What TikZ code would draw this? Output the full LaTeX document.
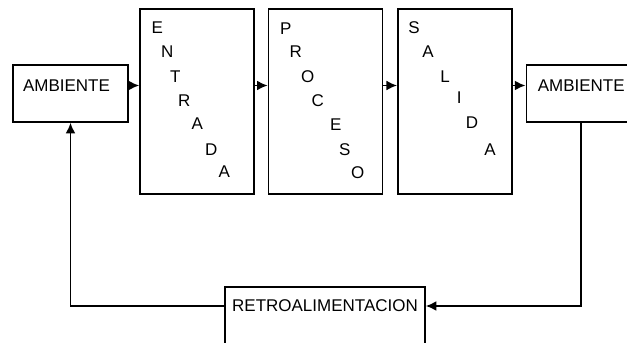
\documentclass[tikz,border=0pt]{standalone}
\usepackage{fontspec}
\setmainfont{Liberation Sans}
\usetikzlibrary{positioning,calc,arrows.meta}

\tikzset{
  caja/.style={draw, line width=1.2pt, inner sep=0pt},
  bloque/.style={caja, minimum width=34.2mm, minimum height=55.5mm},
  ambiente/.style={caja, minimum width=34.5mm, minimum height=17.1mm},
  texto/.style={font=\fontsize{14.5}{15}\selectfont, inner sep=0pt},
  letra/.style={texto},
  flecha/.style={-{Latex[length=3.2mm,width=3mm]}, line width=1.7pt}
}

\begin{document}
\begin{tikzpicture}[x=0.3mm, y=-0.3mm]
\path[use as bounding box, clip] (0,0) rectangle (627,343);

% bloques del sistema
\node[bloque] (entrada) at (197,101.5) {};
\node[bloque, right=3.9mm of entrada] (proceso) {};
\node[bloque, right=4.2mm of proceso] (salida) {};

% ambiente de entrada y de salida
\node[ambiente] (amb1) at (70.5,93.5) {};
\node[texto, xshift=-1.2mm, yshift=2.4mm] (amb1txt) at (amb1.center) {AMBIENTE};
\node[ambiente, minimum width=33mm, anchor=west] (amb2) at ($(salida.east |- amb1.center)+(13,0)$) {};
\node[texto, yshift=2.4mm] (amb2txt) at (amb2.center) {AMBIENTE};

% retroalimentacion
\node[caja, minimum width=60mm, minimum height=19.8mm] (retro) at (325,320) {};
\node[texto, yshift=4.2mm] (retrotxt) at (retro.center) {RETROALIMENTACION};

% letras en diagonal
\foreach \ch/\dx/\dy [count=\i] in {E/18/19, N/28/43, T/36/68, R/45/92, A/58/115, D/72/141, A/85/163}
  \node[letra] (ent\i) at ($(entrada.north west)+(\dx,\dy)$) {\ch};
\foreach \ch/\dx/\dy [count=\i] in {P/18/20, R/28/43, O/40/68, C/50/92, E/68/116, S/77/141, O/90/164}
  \node[letra] (pro\i) at ($(proceso.north west)+(\dx,\dy)$) {\ch};
\foreach \ch/\dx/\dy [count=\i] in {S/17/19, A/31/43, L/48/68, I/62/89, D/75/114, A/93/141}
  \node[letra] (sal\i) at ($(salida.north west)+(\dx,\dy)$) {\ch};

% flujo principal
\draw[flecha] (amb1txt -| amb1.east) -- (amb1txt -| entrada.west);
\draw[flecha] (amb1txt -| entrada.east) -- (amb1txt -| proceso.west);
\draw[flecha] (amb1txt -| proceso.east) -- (amb1txt -| salida.west);
\draw[flecha] (amb1txt -| salida.east) -- (amb1txt -| amb2.west);

% lazo de retroalimentacion
\draw[flecha] (amb2.south) |- (retrotxt -| retro.east);
\draw[flecha] (retrotxt -| retro.west) -| (amb1.south);
\end{tikzpicture}
\end{document}
